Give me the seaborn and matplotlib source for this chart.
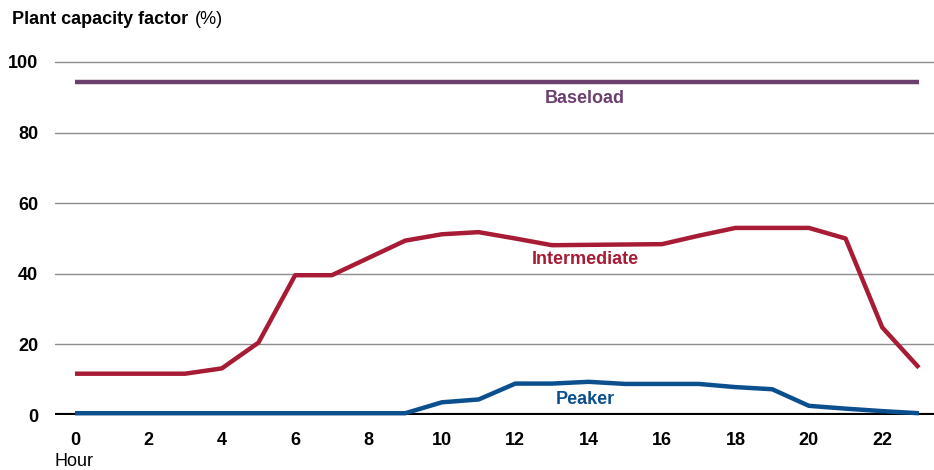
import matplotlib
matplotlib.use("Agg")
import matplotlib.pyplot as plt
import seaborn as sns
import pandas as pd

# hourly plant capacity factor (%)
hours = list(range(24))
baseload = [94.3] * 24
intermediate = [11.7, 11.7, 11.7, 11.7, 13.2, 20.5, 39.6, 39.6, 44.5, 49.4, 51.2, 51.8,
                50.0, 48.1, 48.2, 48.3, 48.4, 50.8, 53.0, 53.0, 53.0, 50.0, 24.8, 13.4]
peaker = [0.5, 0.5, 0.5, 0.5, 0.5, 0.5, 0.5, 0.5, 0.5, 0.5, 3.6, 4.4,
          8.9, 8.9, 9.4, 8.8, 8.8, 8.8, 7.9, 7.3, 2.6, 1.8, 1.1, 0.5]

series_names = ["Baseload", "Intermediate", "Peaker"]
colors = {"Baseload": "#6b3f6e", "Intermediate": "#a71b34", "Peaker": "#0c4f8e"}

df = pd.DataFrame({
    "hour": hours * 3,
    "value": baseload + intermediate + peaker,
    "series": ["Baseload"] * 24 + ["Intermediate"] * 24 + ["Peaker"] * 24,
})

sns.set_style("white")
plt.rcParams["font.family"] = ["Liberation Sans", "DejaVu Sans"]
plt.rcParams["text.color"] = "black"
plt.rcParams["xtick.color"] = "black"
plt.rcParams["ytick.color"] = "black"

fig = plt.figure(figsize=(9.34, 4.70), dpi=100)
ax = fig.add_axes([55 / 934, 55 / 470, 879 / 934, 353 / 470])

ax.set_xlim(-0.545, 23.41)
ax.set_ylim(0, 100)
for y in [20, 40, 60, 80, 100]:
    ax.axhline(y, color="#8c8c8c", lw=1.0, zorder=0, clip_on=False)

sns.lineplot(data=df, x="hour", y="value", hue="series", palette=colors,
             linewidth=3.2, legend=False, ax=ax, zorder=3)
for line in ax.get_lines()[-3:]:
    line.set_solid_capstyle("butt")
    line.set_clip_on(False)

ax.axhline(0, color="black", lw=3.0, zorder=2)

for s in ax.spines.values():
    s.set_visible(False)

ax.set_xticks(range(0, 24, 2))
ax.set_yticks([0, 20, 40, 60, 80, 100])
ax.tick_params(axis="both", length=0, labelsize=13)
ax.tick_params(axis="y", pad=12)
ax.tick_params(axis="x", pad=12)
for lab in ax.get_xticklabels() + ax.get_yticklabels():
    lab.set_fontweight("bold")
ax.set_xlabel("")
ax.set_ylabel("")

# series labels
ax.text(13.9, 89.6, "Baseload", color=colors["Baseload"], fontsize=13, fontweight="bold",
        ha="center", va="center")
ax.text(13.9, 44.0, "Intermediate", color=colors["Intermediate"], fontsize=13, fontweight="bold",
        ha="center", va="center")
ax.text(13.9, 4.5, "Peaker", color=colors["Peaker"], fontsize=13, fontweight="bold",
        ha="center", va="center")

fig.text(12 / 934, 1 - 20 / 470, "Plant capacity factor", fontsize=13, fontweight="bold",
         ha="left", va="center")
fig.text(195 / 934, 1 - 20 / 470, "(%)", fontsize=13, ha="left", va="center")
fig.text(55 / 934, 1 - 461 / 470, "Hour", fontsize=13, ha="left", va="center")

fig.savefig("out.png", dpi=100)
